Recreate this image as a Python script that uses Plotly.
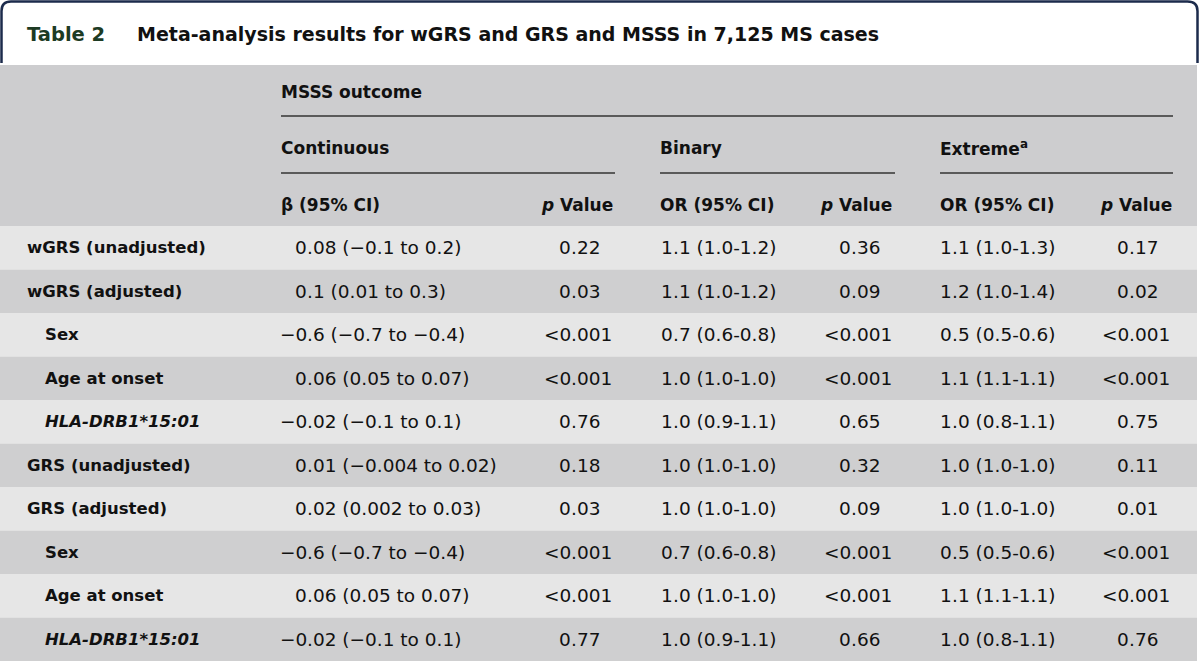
import plotly.graph_objects as go

# ---------------- data ----------------
title_label = "Table 2"
title_text = "Meta-analysis results for wGRS and GRS and MSSS in 7,125 MS cases"
outcome_header = "MSSS outcome"
group_headers = ["Continuous", "Binary", "Extreme<sup>a</sup>"]
column_headers = ["β (95% CI)", "<i>p</i> Value", "OR (95% CI)", "<i>p</i> Value",
                  "OR (95% CI)", "<i>p</i> Value"]

row_labels = ["wGRS (unadjusted)", "wGRS (adjusted)", "Sex", "Age at onset",
              "<i>HLA-DRB1*15:01</i>", "GRS (unadjusted)", "GRS (adjusted)", "Sex",
              "Age at onset", "<i>HLA-DRB1*15:01</i>"]
row_indent = [0, 0, 1, 1, 1, 0, 0, 1, 1, 1]

cont_beta = ["0.08 (−0.1 to 0.2)", "0.1 (0.01 to 0.3)", "−0.6 (−0.7 to −0.4)",
             "0.06 (0.05 to 0.07)", "−0.02 (−0.1 to 0.1)", "0.01 (−0.004 to 0.02)",
             "0.02 (0.002 to 0.03)", "−0.6 (−0.7 to −0.4)", "0.06 (0.05 to 0.07)",
             "−0.02 (−0.1 to 0.1)"]
cont_p = ["0.22", "0.03", "<0.001", "<0.001", "0.76", "0.18", "0.03", "<0.001",
          "<0.001", "0.77"]
bin_or = ["1.1 (1.0-1.2)", "1.1 (1.0-1.2)", "0.7 (0.6-0.8)", "1.0 (1.0-1.0)",
          "1.0 (0.9-1.1)", "1.0 (1.0-1.0)", "1.0 (1.0-1.0)", "0.7 (0.6-0.8)",
          "1.0 (1.0-1.0)", "1.0 (0.9-1.1)"]
bin_p = ["0.36", "0.09", "<0.001", "<0.001", "0.65", "0.32", "0.09", "<0.001",
         "<0.001", "0.66"]
ext_or = ["1.1 (1.0-1.3)", "1.2 (1.0-1.4)", "0.5 (0.5-0.6)", "1.1 (1.1-1.1)",
          "1.0 (0.8-1.1)", "1.0 (1.0-1.0)", "1.0 (1.0-1.0)", "0.5 (0.5-0.6)",
          "1.1 (1.1-1.1)", "1.0 (0.8-1.1)"]
ext_p = ["0.17", "0.02", "<0.001", "<0.001", "0.75", "0.11", "0.01", "<0.001",
         "<0.001", "0.76"]

value_columns = [cont_beta, cont_p, bin_or, bin_p, ext_or, ext_p]

# ---------------- layout / style ----------------
W, H = 1200, 661
REG = "DejaVu Sans"
TXT = "#111111"
HEAD_BG = "#cdcdcf"
ROW_BG = ["#e6e6e6", "#cfcfd0"]
BORDER = "#1c2b4c"

head_top, head_bot = 65, 226
row_h = (H - head_bot) / len(row_labels)
label_x = [27, 45]
decimal_x = [307, 571, 673, 851, 952, 1129]
head_left = [281, None, 660, None, 940, None]
head_right = [None, 613, None, 892, None, 1172]
group_span = [(281, 615), (660, 895), (940, 1173)]

fig = go.Figure()
fig.add_trace(go.Scatter(x=[0, W], y=[0, H], mode="markers",
                         marker=dict(opacity=0), hoverinfo="skip", showlegend=False))

shapes = []
# title box
shapes.append(dict(type="path", xref="x", yref="y",
                   path="M 1.5,63 L 1.5,11 Q 1.5,1.5 11,1.5 L 1187.5,1.5 Q 1197.5,1.5 1197.5,11 L 1197.5,63",
                   line=dict(color=BORDER, width=2.5), fillcolor="white", layer="below"))
# header background
shapes.append(dict(type="rect", xref="x", yref="y", x0=0, x1=1197, y0=head_top, y1=head_bot,
                   fillcolor=HEAD_BG, line=dict(width=0), layer="below"))
# row backgrounds
for i in range(len(row_labels)):
    shapes.append(dict(type="rect", xref="x", yref="y", x0=0, x1=1197,
                       y0=head_bot + i * row_h, y1=head_bot + (i + 1) * row_h,
                       fillcolor=ROW_BG[i % 2], line=dict(width=0), layer="below"))
# header rules
shapes.append(dict(type="line", xref="x", yref="y", x0=281, x1=1173, y0=116, y1=116,
                   line=dict(color="#333333", width=1.5)))
for a, b in group_span:
    shapes.append(dict(type="line", xref="x", yref="y", x0=a, x1=b, y0=173, y1=173,
                       line=dict(color="#333333", width=1.5)))

ann = []


def add(text, x, y, anchor, size, color=TXT, bold=False):
    t = text.replace("<0", "&lt;0") if text.startswith("<0") else text
    if bold:
        t = "<b>" + t + "</b>"
    ann.append(dict(text=t, x=x, y=y, xref="x", yref="y", xanchor=anchor, yanchor="middle",
                    showarrow=False, borderpad=0, borderwidth=0,
                    font=dict(family=REG, size=size, color=color)))


# title
add(title_label, 27, 34, "left", 19.5, color="#1d3b24", bold=True)
add(title_text, 137, 34, "left", 19, bold=True)

# headers
add(outcome_header, 281, 92, "left", 17, bold=True)
for (a, b), g in zip(group_span, group_headers):
    add(g, a, 148, "left", 17, bold=True)
for j, h in enumerate(column_headers):
    if head_left[j] is not None:
        add(h, head_left[j], 205, "left", 17, bold=True)
    else:
        add(h, head_right[j], 205, "right", 17, bold=True)

# rows
for i, lab in enumerate(row_labels):
    yc = head_bot + (i + 0.5) * row_h
    add(lab, label_x[row_indent[i]], yc, "left", 16.5, bold=True)
    for j, col in enumerate(value_columns):
        v = col[i]
        k = v.index(".")
        add(v[:k], decimal_x[j], yc, "right", 18.5)
        add(v[k:], decimal_x[j], yc, "left", 18.5)

fig.update_layout(
    width=W, height=H, margin=dict(l=0, r=0, t=0, b=0),
    paper_bgcolor="white", plot_bgcolor="white",
    xaxis=dict(range=[0, W], visible=False, fixedrange=True),
    yaxis=dict(range=[H, 0], visible=False, fixedrange=True),
    shapes=shapes, annotations=ann, showlegend=False,
)

fig.write_html("out.html", config={"displayModeBar": False},
               post_script="document.body.style.margin='0px';document.body.style.overflow='hidden';")
